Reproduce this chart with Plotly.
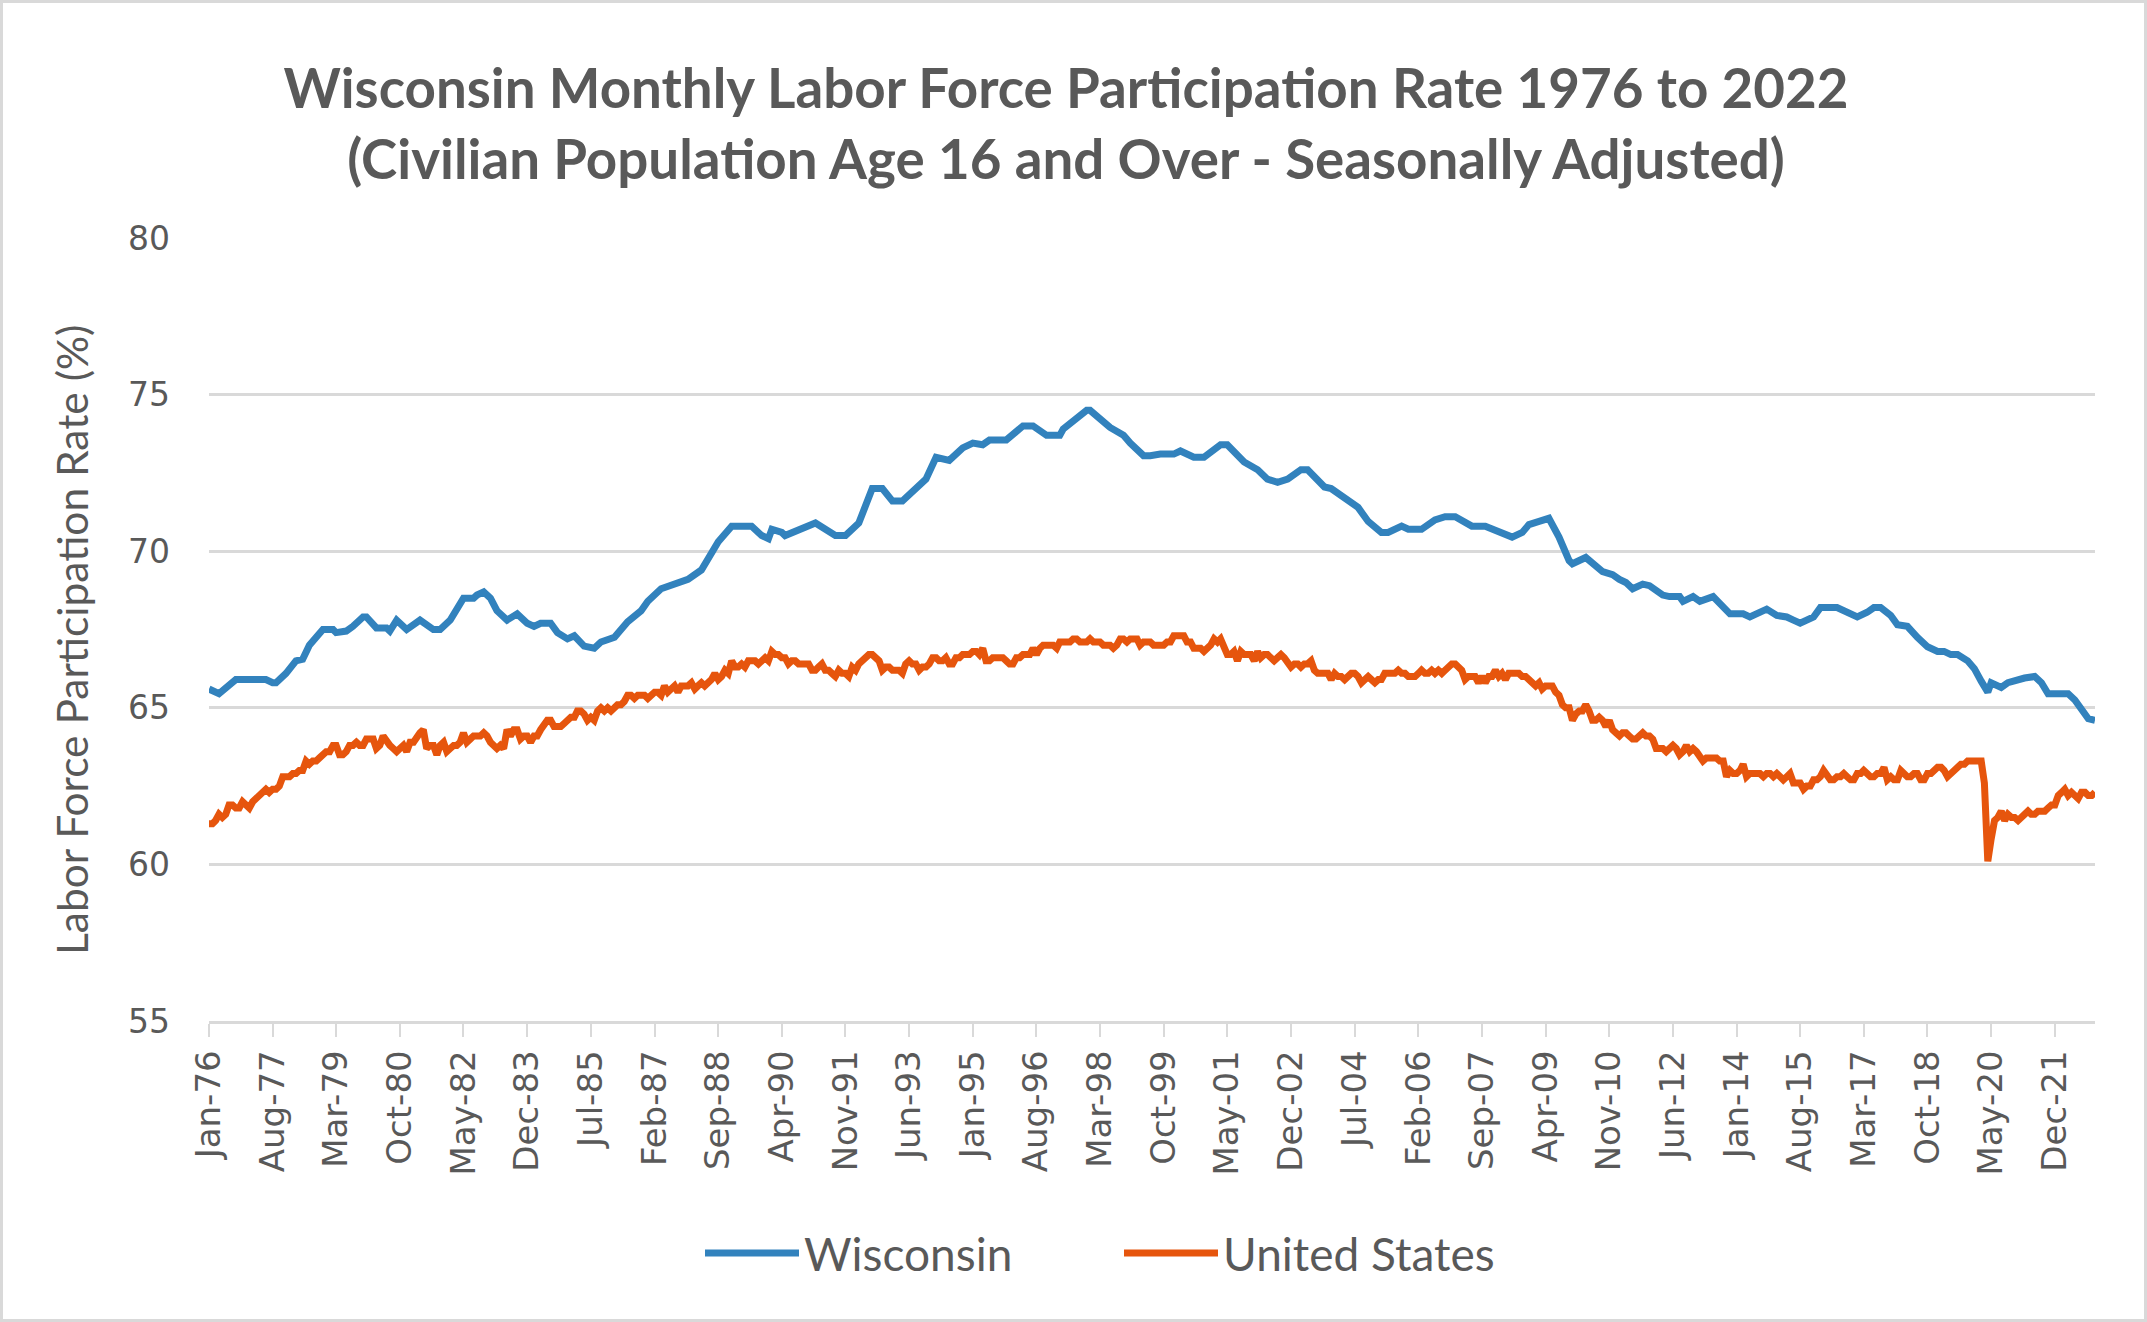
import plotly.graph_objects as go
import pandas as pd

# CANVAS
W, H = 2147, 1322
M_L, M_R, M_T, M_B = 209, 52, 238, 301

GRAY_TEXT = '#595959'
GRID = '#D9D9D9'
BLUE = '#3282BD'
ORANGE = '#E6550D'

TITLE = ('<b>Wisconsin Monthly Labor Force Participation Rate 1976 to 2022</b><br>'
         '<b>(Civilian Population Age 16 and Over - Seasonally Adjusted)</b>')
Y_TITLE = 'Labor Force Participation Rate (%)'
Y_TICKS = [55, 60, 65, 70, 75, 80]

# United States, monthly Jan 1976 - Dec 2022
US_RATE = [
    61.3, 61.3, 61.4, 61.6, 61.5, 61.6, 61.9, 61.9, 61.8, 61.8, 62.0, 61.9,  # 1976
    61.8, 62.0, 62.1, 62.2, 62.3, 62.4, 62.3, 62.4, 62.4, 62.5, 62.8, 62.8,  # 1977
    62.8, 62.9, 62.9, 63.0, 63.0, 63.3, 63.2, 63.3, 63.3, 63.4, 63.5, 63.6,  # 1978
    63.6, 63.8, 63.8, 63.5, 63.5, 63.6, 63.8, 63.8, 63.9, 63.8, 63.8, 64.0,  # 1979
    64.0, 64.0, 63.7, 63.8, 64.1, 63.9, 63.8, 63.7, 63.6, 63.7, 63.8, 63.6,  # 1980
    63.9, 63.9, 64.1, 64.2, 64.3, 63.7, 63.8, 63.8, 63.5, 63.8, 63.9, 63.6,  # 1981
    63.7, 63.8, 63.8, 63.9, 64.2, 63.9, 64.0, 64.1, 64.1, 64.1, 64.2, 64.1,  # 1982
    63.9, 63.8, 63.7, 63.8, 63.7, 64.3, 64.1, 64.3, 64.3, 64.0, 64.1, 64.1,  # 1983
    63.9, 64.1, 64.1, 64.3, 64.5, 64.6, 64.6, 64.4, 64.4, 64.4, 64.5, 64.6,  # 1984
    64.7, 64.7, 64.9, 64.9, 64.8, 64.6, 64.7, 64.6, 64.9, 65.0, 64.9, 65.0,  # 1985
    64.9, 65.0, 65.1, 65.1, 65.2, 65.4, 65.4, 65.3, 65.4, 65.4, 65.4, 65.3,  # 1986
    65.4, 65.5, 65.5, 65.4, 65.7, 65.5, 65.6, 65.7, 65.5, 65.7, 65.7, 65.7,  # 1987
    65.8, 65.6, 65.7, 65.8, 65.7, 65.8, 65.9, 66.1, 65.9, 66.0, 66.2, 66.1,  # 1988
    66.5, 66.3, 66.3, 66.4, 66.3, 66.5, 66.5, 66.5, 66.4, 66.5, 66.6, 66.5,  # 1989
    66.8, 66.7, 66.7, 66.6, 66.6, 66.4, 66.5, 66.5, 66.4, 66.4, 66.4, 66.4,  # 1990
    66.2, 66.2, 66.3, 66.4, 66.2, 66.2, 66.1, 66.0, 66.2, 66.1, 66.1, 66.0,  # 1991
    66.3, 66.2, 66.4, 66.5, 66.6, 66.7, 66.7, 66.6, 66.5, 66.2, 66.3, 66.3,  # 1992
    66.2, 66.2, 66.2, 66.1, 66.4, 66.5, 66.4, 66.4, 66.2, 66.3, 66.3, 66.4,  # 1993
    66.6, 66.6, 66.5, 66.5, 66.6, 66.4, 66.4, 66.6, 66.6, 66.7, 66.7, 66.7,  # 1994
    66.8, 66.8, 66.7, 66.9, 66.5, 66.5, 66.6, 66.6, 66.6, 66.6, 66.5, 66.4,  # 1995
    66.4, 66.6, 66.6, 66.7, 66.7, 66.7, 66.9, 66.7, 66.9, 67.0, 67.0, 67.0,  # 1996
    67.0, 66.9, 67.1, 67.1, 67.1, 67.1, 67.2, 67.2, 67.1, 67.1, 67.1, 67.2,  # 1997
    67.1, 67.1, 67.1, 67.0, 67.0, 67.0, 66.9, 67.0, 67.2, 67.2, 67.1, 67.2,  # 1998
    67.2, 67.2, 67.0, 67.1, 67.1, 67.1, 67.0, 67.0, 67.0, 67.0, 67.1, 67.1,  # 1999
    67.3, 67.3, 67.3, 67.3, 67.1, 67.1, 66.9, 66.9, 66.9, 66.8, 66.9, 67.0,  # 2000
    67.2, 67.1, 67.2, 66.9, 66.7, 66.7, 66.8, 66.5, 66.8, 66.7, 66.7, 66.7,  # 2001
    66.5, 66.8, 66.6, 66.7, 66.7, 66.6, 66.5, 66.6, 66.7, 66.6, 66.4, 66.3,  # 2002
    66.4, 66.4, 66.3, 66.4, 66.4, 66.5, 66.2, 66.1, 66.1, 66.1, 66.1, 65.9,  # 2003
    66.1, 66.0, 66.0, 65.9, 66.0, 66.1, 66.1, 66.0, 65.8, 65.9, 66.0, 65.9,  # 2004
    65.8, 65.9, 65.9, 66.1, 66.1, 66.1, 66.1, 66.2, 66.1, 66.1, 66.0, 66.0,  # 2005
    66.0, 66.1, 66.2, 66.1, 66.1, 66.2, 66.1, 66.2, 66.1, 66.2, 66.3, 66.4,  # 2006
    66.4, 66.3, 66.2, 65.9, 66.0, 66.0, 66.0, 65.8, 66.0, 65.8, 66.0, 66.0,  # 2007
    66.2, 66.0, 66.1, 65.9, 66.1, 66.1, 66.1, 66.1, 66.0, 66.0, 65.9, 65.8,  # 2008
    65.7, 65.8, 65.6, 65.7, 65.7, 65.7, 65.5, 65.4, 65.1, 65.0, 65.0, 64.6,  # 2009
    64.8, 64.9, 64.9, 65.1, 64.9, 64.6, 64.6, 64.7, 64.6, 64.4, 64.6, 64.3,  # 2010
    64.2, 64.1, 64.2, 64.2, 64.1, 64.0, 64.0, 64.1, 64.2, 64.1, 64.1, 64.0,  # 2011
    63.7, 63.7, 63.7, 63.6, 63.7, 63.8, 63.7, 63.5, 63.6, 63.8, 63.6, 63.7,  # 2012
    63.6, 63.4, 63.3, 63.4, 63.4, 63.4, 63.4, 63.3, 63.3, 62.8, 63.0, 62.9,  # 2013
    62.9, 63.0, 63.2, 62.8, 62.9, 62.9, 62.9, 62.9, 62.8, 62.9, 62.9, 62.8,  # 2014
    62.9, 62.8, 62.7, 62.8, 62.9, 62.6, 62.6, 62.6, 62.4, 62.5, 62.5, 62.7,  # 2015
    62.7, 62.8, 63.0, 62.8, 62.7, 62.7, 62.8, 62.8, 62.9, 62.8, 62.7, 62.7,  # 2016
    62.9, 62.9, 63.0, 62.9, 62.8, 62.8, 62.9, 62.9, 63.1, 62.7, 62.8, 62.7,  # 2017
    62.7, 63.0, 62.9, 62.8, 62.8, 62.9, 62.9, 62.7, 62.7, 62.9, 62.9, 63.0,  # 2018
    63.1, 63.1, 63.0, 62.8, 62.9, 63.0, 63.1, 63.2, 63.2, 63.3, 63.3, 63.3,  # 2019
    63.3, 63.3, 62.6, 60.1, 60.8, 61.4, 61.5, 61.7, 61.4, 61.6, 61.5, 61.5,  # 2020
    61.4, 61.5, 61.6, 61.7, 61.6, 61.6, 61.7, 61.7, 61.7, 61.8, 61.9, 61.9,  # 2021
    62.2, 62.3, 62.4, 62.2, 62.3, 62.2, 62.1, 62.3, 62.3, 62.2, 62.2, 62.3,  # 2022
]

# Wisconsin at its turning points
WI_DATES = [
    '1976-01', '1976-04', '1976-09', '1977-06', '1977-08', '1977-09', '1977-12', '1978-03',
    '1978-05', '1978-07', '1978-11', '1979-02', '1979-03', '1979-06', '1979-08', '1979-11',
    '1979-12', '1980-03', '1980-06', '1980-07', '1980-09', '1980-12', '1981-04', '1981-08',
    '1981-10', '1982-01', '1982-05', '1982-08', '1982-09', '1982-11', '1983-01', '1983-03',
    '1983-06', '1983-09', '1983-12', '1984-02', '1984-04', '1984-07', '1984-09', '1984-12',
    '1985-02', '1985-05', '1985-08', '1985-10', '1986-02', '1986-06', '1986-10', '1986-12',
    '1987-04', '1987-07', '1987-09', '1987-12', '1988-04', '1988-06', '1988-09', '1989-01',
    '1989-07', '1989-10', '1989-12', '1990-01', '1990-04', '1990-05', '1990-09', '1990-11',
    '1991-02', '1991-08', '1991-11', '1992-03', '1992-06', '1992-07', '1992-10', '1993-01',
    '1993-04', '1993-11', '1994-02', '1994-06', '1994-10', '1995-01', '1995-04', '1995-06',
    '1995-11', '1996-04', '1996-07', '1996-11', '1997-03', '1997-04', '1997-11', '1997-12',
    '1998-06', '1998-08', '1998-10', '1998-12', '1999-04', '1999-06', '1999-09', '2000-01',
    '2000-03', '2000-07', '2000-10', '2001-03', '2001-05', '2001-10', '2002-02', '2002-05',
    '2002-08', '2002-11', '2003-03', '2003-05', '2003-10', '2003-12', '2004-03', '2004-08',
    '2004-11', '2005-03', '2005-05', '2005-09', '2005-11', '2006-03', '2006-07', '2006-10',
    '2007-01', '2007-06', '2007-10', '2007-12', '2008-03', '2008-06', '2008-09', '2008-11',
    '2009-02', '2009-05', '2009-08', '2009-11', '2009-12', '2010-04', '2010-09', '2010-12',
    '2011-02', '2011-04', '2011-06', '2011-09', '2011-11', '2012-03', '2012-05', '2012-08',
    '2012-09', '2012-12', '2013-02', '2013-06', '2013-11', '2014-03', '2014-05', '2014-10',
    '2015-01', '2015-04', '2015-06', '2015-08', '2015-12', '2016-02', '2016-07', '2016-10',
    '2017-01', '2017-04', '2017-06', '2017-08', '2017-11', '2018-01', '2018-04', '2018-07',
    '2018-10', '2019-01', '2019-03', '2019-05', '2019-07', '2019-10', '2019-12', '2020-02',
    '2020-04', '2020-05', '2020-07', '2020-08', '2020-10', '2021-01', '2021-03', '2021-06',
    '2021-08', '2021-10', '2022-04', '2022-06', '2022-08', '2022-10', '2022-12',
]
WI_RATE = [
    65.6, 65.45, 65.9, 65.9, 65.8, 65.8, 66.1, 66.5,
    66.55, 67.0, 67.5, 67.5, 67.4, 67.45, 67.6, 67.9,
    67.9, 67.55, 67.55, 67.45, 67.8, 67.5, 67.8, 67.5,
    67.5, 67.8, 68.5, 68.5, 68.6, 68.7, 68.5, 68.1,
    67.8, 68.0, 67.7, 67.6, 67.7, 67.7, 67.4, 67.2,
    67.3, 66.97, 66.9, 67.1, 67.25, 67.75, 68.1, 68.4,
    68.8, 68.9, 69.0, 69.1, 69.4, 69.8, 70.3, 70.8,
    70.8, 70.5, 70.4, 70.7, 70.6, 70.5, 70.7, 70.75,
    70.9, 70.5, 70.5, 70.9, 71.85, 72.0, 72.0, 71.6,
    71.6, 72.3, 73.0, 72.9, 73.3, 73.45, 73.4, 73.55,
    73.55, 74.0, 74.0, 73.7, 73.7, 73.9, 74.5, 74.5,
    73.95, 73.8, 73.7, 73.45, 73.05, 73.05, 73.1, 73.1,
    73.2, 73.0, 73.0, 73.4, 73.4, 72.85, 72.6, 72.3,
    72.2, 72.3, 72.6, 72.6, 72.05, 72.0, 71.8, 71.4,
    70.95, 70.6, 70.6, 70.8, 70.7, 70.7, 71.0, 71.1,
    71.1, 70.8, 70.8, 70.7, 70.6, 70.45, 70.6, 70.85,
    70.95, 71.05, 70.45, 69.7, 69.6, 69.8, 69.35, 69.25,
    69.1, 69.0, 68.8, 68.95, 68.9, 68.6, 68.55, 68.55,
    68.4, 68.55, 68.4, 68.55, 68.0, 68.0, 67.9, 68.15,
    67.95, 67.9, 67.8, 67.7, 67.9, 68.2, 68.2, 68.05,
    67.9, 68.05, 68.2, 68.2, 67.95, 67.65, 67.6, 67.25,
    66.95, 66.8, 66.8, 66.7, 66.7, 66.5, 66.25, 65.85,
    65.5, 65.8, 65.7, 65.65, 65.8, 65.9, 65.95, 66.0,
    65.8, 65.45, 65.45, 65.25, 64.9, 64.65, 64.6,
]

us_dates = pd.date_range('1976-01-01', periods=len(US_RATE), freq='MS')
wi_dates = pd.to_datetime(WI_DATES)
# Excel labels every 19th month starting Jan-76
tick_dates = pd.date_range('1976-01-01', '2022-12-01', freq='19MS')

plot_w = W - M_L - M_R
plot_h = H - M_T - M_B


def px_x(px):
    return (px - M_L) / plot_w


def px_y(py):
    return (H - M_B - py) / plot_h


fig = go.Figure()
fig.add_trace(go.Scatter(x=wi_dates, y=WI_RATE, name='Wisconsin', mode='lines',
                         line=dict(color=BLUE, width=7)))
fig.add_trace(go.Scatter(x=us_dates, y=US_RATE, name='United States', mode='lines',
                         line=dict(color=ORANGE, width=7)))

# Chart area border
fig.add_shape(type='rect', xref='paper', yref='paper',
              x0=px_x(1.5), x1=px_x(W - 1.5), y0=px_y(H - 1.5), y1=px_y(1.5),
              line=dict(color=GRID, width=3), layer='below')

# Y axis title, placed by hand (Excel centres it a little below the plot middle)
fig.add_annotation(text=Y_TITLE, textangle=-90, showarrow=False,
                   xref='paper', yref='paper', x=px_x(71), y=px_y(640),
                   xanchor='center', yanchor='middle',
                   font=dict(family='Lato', size=42.5, color=GRAY_TEXT))

fig.update_xaxes(type='date', range=[us_dates[0], us_dates[-1]],
                 tickvals=tick_dates, tickformat='%b-%y', tickangle=-90,
                 ticks='outside', ticklen=13, tickwidth=2, tickcolor=GRID,
                 showline=True, linecolor=GRID, linewidth=2.5, showgrid=False,
                 ticklabelstandoff=0,
                 tickfont=dict(family='DejaVu Sans', size=34, color=GRAY_TEXT))
fig.update_yaxes(range=[55, 80], tickvals=Y_TICKS, showgrid=True, gridcolor=GRID,
                 gridwidth=2.5, zeroline=False, showline=False,
                 ticklabelstandoff=38,
                 tickfont=dict(family='DejaVu Sans', size=33, color=GRAY_TEXT))

fig.update_layout(
    width=W, height=H, autosize=False,
    paper_bgcolor='white', plot_bgcolor='white',
    margin={'l': M_L, 'r': M_R, 't': M_T, 'b': M_B, 'pad': 0},
    title=dict(text=TITLE, x=0.4965, xref='container', xanchor='center',
               y=1 - 108 / H, yref='container', yanchor='middle',
               font=dict(family='Lato', size=54.7, color=GRAY_TEXT)),
    legend=dict(orientation='h', x=px_x(700), xanchor='left',
                y=px_y(1253), yanchor='middle', itemwidth=94,
                entrywidth=310, entrywidthmode='pixels',
                font=dict(family='Lato', size=46, color=GRAY_TEXT),
                bgcolor='rgba(0,0,0,0)'),
    showlegend=True,
)

# the page body has a default 8px margin; drop it so the figure fills the window
fig.write_html('out.html', config={'displayModeBar': False},
               post_script="document.body.style.margin='0';")
